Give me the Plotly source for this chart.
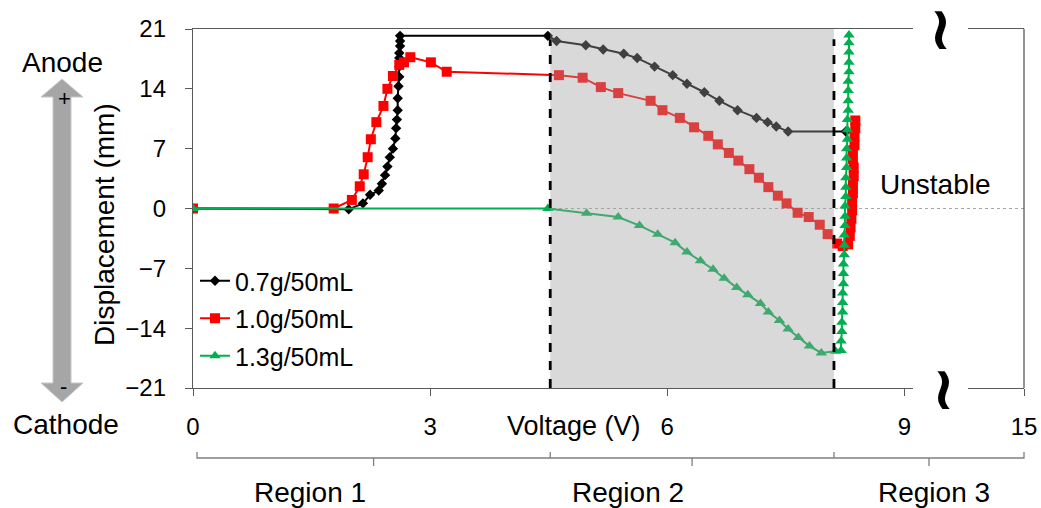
import plotly.graph_objects as go

# ---------------- data ----------------
black_v = [0, 1.97, 2.15, 2.24, 2.35, 2.39, 2.43, 2.46, 2.49, 2.53, 2.56, 2.57, 2.58, 2.59, 2.59, 2.60,
           2.61, 2.61, 2.61, 2.61, 2.62, 2.62, 2.62,
           4.49, 4.60, 4.97, 5.19, 5.45, 5.62, 5.84, 6.07, 6.25, 6.47, 6.66, 6.89, 7.13, 7.27, 7.38, 7.53, 8.26]
black_mm = [0, -0.1, 0.6, 1.6, 2.1, 2.9, 3.9, 4.9, 6.0, 7.0, 8.2, 9.4, 10.4, 11.5, 12.9, 14.3,
            15.4, 16.6, 17.6, 18.2, 19.0, 19.6, 20.2,
            20.2, 19.6, 19.1, 18.6, 18.1, 17.6, 16.6, 15.6, 14.6, 13.6, 12.6, 11.5, 10.6, 10.1, 9.6, 9.0, 9.0]

red_v = [0, 1.78, 2.01, 2.11, 2.16, 2.21, 2.25, 2.32, 2.41, 2.46, 2.53, 2.61, 2.67, 2.75, 3.01, 3.21,
         4.63, 4.93, 5.16, 5.38, 5.79, 5.94, 6.16, 6.34, 6.52, 6.64, 6.78, 6.90, 7.04, 7.16, 7.28, 7.40,
         7.51, 7.65, 7.79, 7.93, 8.03, 8.15,
         8.22, 8.29, 8.31, 8.32, 8.33, 8.34, 8.34, 8.35, 8.35, 8.36, 8.36, 8.35, 8.35, 8.37, 8.37, 8.38, 8.38]
red_mm = [0, 0, 1.0, 2.6, 4.0, 6.0, 8.1, 10.1, 12.0, 14.0, 15.5, 16.8, 17.1, 17.7, 17.1, 16.0,
          15.6, 15.3, 14.2, 13.5, 12.6, 11.5, 10.6, 9.5, 8.5, 7.5, 6.5, 5.6, 4.6, 3.6, 2.5, 1.5,
          0.6, -0.5, -1.0, -1.9, -3.0, -4.1,
          -4.4, -4.2, -3.2, -2.2, -1.2, -0.2, 0.8, 1.8, 2.8, 3.8, 4.8, 5.8, 6.8, 7.4, 8.4, 9.4, 10.3]

green_v = [0, 4.49, 4.98, 5.38, 5.65, 5.88, 6.10, 6.25, 6.42, 6.58, 6.72, 6.88, 7.02, 7.18, 7.28, 7.42,
           7.53, 7.66, 7.80, 7.95, 8.13,
           8.20, 8.20, 8.21, 8.21, 8.22, 8.22, 8.22, 8.23, 8.23, 8.23, 8.24, 8.24, 8.24, 8.25, 8.25, 8.25,
           8.26, 8.26, 8.26, 8.27, 8.27, 8.27, 8.28, 8.28, 8.28, 8.29, 8.29, 8.29, 8.29, 8.30, 8.30, 8.30,
           8.30, 8.30]
green_mm = [0, 0, -0.55, -1.0, -2.0, -3.0, -4.0, -5.1, -6.1, -7.1, -8.15, -9.25, -10.1, -11.1, -12.1, -13.1,
            -14.1, -15.1, -16.1, -16.9, -16.7,
            -16.6, -15.5, -14.4, -13.3, -12.1, -11.0, -9.9, -8.8, -7.6, -6.5, -5.4, -4.3, -3.1, -2.0, -0.9, 0.3,
            1.4, 2.5, 3.6, 4.8, 5.9, 7.0, 8.1, 9.2, 10.4, 11.5, 12.6, 13.8, 14.9, 16.0, 17.1, 18.3,
            19.4, 20.3]

series_names = ["0.7g/50mL", "1.0g/50mL", "1.3g/50mL"]
region_bounds = [4.52, 8.11]          # voltage limits of region 2
y_ticks = [-21, -14, -7, 0, 7, 14, 21]
x_ticks_main = [0, 3, 6, 9]
x_ticks_far = [15]
region_labels = ["Region 1", "Region 2", "Region 3"]

assert len(black_v) == len(black_mm)
assert len(red_v) == len(red_mm)
assert len(green_v) == len(green_mm)

# ---------------- layout geometry ----------------
W, H = 1041, 508
ML, MR, MT, MB = 193, 17, 29, 120
PW, PH = W - ML - MR, H - MT - MB
X_MAIN_RANGE = [0, 9.11]
X_MAIN_DOM = [0, (913 - ML) / PW]
X_FAR_RANGE = [14.29, 15]
X_FAR_DOM = [(968 - ML) / PW, 1]


def px_x(px):
    return (px - ML) / PW


def px_y(py):
    return (H - MB - py) / PH


def v_to_px(v):
    return ML + X_MAIN_DOM[0] * PW + (v - X_MAIN_RANGE[0]) / (X_MAIN_RANGE[1] - X_MAIN_RANGE[0]) * (X_MAIN_DOM[1] - X_MAIN_DOM[0]) * PW


FONT = "Liberation Sans, Arial, sans-serif"
AXC = "#595959"

fig = go.Figure()
styles = [
    dict(color="#000000", symbol="diamond", size=8),
    dict(color="#ff0000", symbol="square", size=10),
    dict(color="#00b050", symbol="triangle-up", size=10),
]
for name, xs, ys, st in zip(series_names, [black_v, red_v, green_v], [black_mm, red_mm, green_mm], styles):
    fig.add_trace(go.Scatter(
        x=xs, y=ys, name=name, mode="lines+markers", legendgroup=name,
        line=dict(color=st["color"], width=2),
        marker=dict(color=st["color"], symbol=st["symbol"], size=st["size"], line=dict(width=0)),
    ))

shapes = []
# zero reference line (dotted)
shapes.append(dict(type="line", xref="paper", yref="y", x0=0, x1=1, y0=0, y1=0,
                   line=dict(color="#a6a6a6", width=1, dash="dot"), layer="below"))
# region 2 shading (semi-transparent overlay, tints the data beneath)
shapes.append(dict(type="rect", xref="x", yref="paper", x0=region_bounds[0], x1=region_bounds[1], y0=0, y1=1,
                   fillcolor="rgb(160,160,160)", opacity=0.4, line=dict(width=0), layer="above"))
# dashed boundaries
for b in region_bounds:
    shapes.append(dict(type="line", xref="x", yref="y", x0=b, x1=b, y0=-21, y1=19.8,
                       line=dict(color="black", width=2.8, dash="dash"), layer="above"))
# right frame
shapes.append(dict(type="line", xref="paper", yref="paper", x0=1, x1=1, y0=0, y1=1,
                   line=dict(color=AXC, width=1.3)))

# region bracket below the axis
yb, yu, yd = px_y(458), px_y(452), px_y(466)
bx = [197, v_to_px(region_bounds[0]), v_to_px(region_bounds[1]), ML + PW]
path = f"M {px_x(bx[0])},{yu} L {px_x(bx[0])},{yb} L {px_x(bx[-1])},{yb} L {px_x(bx[-1])},{yu}"
for b in bx[1:-1]:
    path += f" M {px_x(b)},{yu} L {px_x(b)},{yb}"
for a, b in zip(bx[:-1], bx[1:]):
    c = (a + b) / 2
    path += f" M {px_x(c)},{yb} L {px_x(c)},{yd}"
shapes.append(dict(type="path", xref="paper", yref="paper", path=path,
                   line=dict(color="#7f7f7f", width=1.3)))

# Anode/Cathode double arrow
ax, hw, sw = 62, 21, 9
ty, by, hb, hb2 = 79, 402, 97, 383
pts = [(ax, ty), (ax + hw, hb), (ax + sw, hb), (ax + sw, hb2), (ax + hw, hb2), (ax, by),
       (ax - hw, hb2), (ax - sw, hb2), (ax - sw, hb), (ax - hw, hb)]
apath = "M " + " L ".join(f"{px_x(p[0])},{px_y(p[1])}" for p in pts) + " Z"
shapes.append(dict(type="path", xref="paper", yref="paper", path=apath,
                   fillcolor="#a6a6a6", line=dict(color="#c8c8c8", width=1)))

annotations = []


def ann(text, px, py, size, angle=0, **kw):
    annotations.append(dict(text=text, x=px_x(px), y=px_y(py), xref="paper", yref="paper",
                            showarrow=False, textangle=angle, xanchor="center", yanchor="middle",
                            font=dict(size=size, color="black", family=kw.pop("family", FONT)), **kw))


ann("Anode", 62, 62, 28)
ann("Cathode", 66, 424, 28)
ann("+", 64, 98, 22)
ann("-", 63, 386, 22)
ann("Displacement (mm)", 104, 225, 28, angle=-90)
ann("Voltage (V)", 574, 426, 27)
ann("Unstable", 935, 184, 28)
for lbl, px in zip(region_labels, [310, 628, 934]):
    ann(lbl, px, 492, 28)
# axis break marks
ann("<b>~</b>", 942, 30, 60, angle=90, family="DejaVu Sans")
ann("<b>~</b>", 945, 390, 60, angle=90, family="DejaVu Sans")

axis_common = dict(showline=True, linecolor=AXC, linewidth=1.3, ticks="outside", ticklen=7,
                   tickcolor=AXC, showgrid=False, zeroline=False, automargin=False,
                   tickfont=dict(size=24, color="black", family=FONT))

fig.update_layout(
    width=W, height=H,
    margin=dict(l=ML, r=MR, t=MT, b=MB, autoexpand=False),
    plot_bgcolor="white", paper_bgcolor="white",
    font=dict(family=FONT, color="black"),
    xaxis=dict(domain=X_MAIN_DOM, range=X_MAIN_RANGE, tickvals=x_ticks_main, mirror=True,
               ticklabelstandoff=10, **axis_common),
    xaxis2=dict(domain=X_FAR_DOM, range=X_FAR_RANGE, tickvals=x_ticks_far, mirror=True, anchor="y",
                ticklabelstandoff=10, **axis_common),
    yaxis=dict(range=[-21, 21], tickvals=y_ticks, anchor="x", ticklabelstandoff=14, **axis_common),
    legend=dict(x=px_x(195), y=px_y(258), xanchor="left", yanchor="top", bgcolor="rgba(0,0,0,0)",
                font=dict(size=25, color="black", family=FONT), traceorder="grouped", tracegroupgap=2,
                itemwidth=30),
    shapes=shapes,
    annotations=annotations,
)
# dummy trace on xaxis2 so that the far axis segment is rendered
fig.add_trace(go.Scatter(x=[15], y=[None], xaxis="x2", yaxis="y", showlegend=False, hoverinfo="skip"))

fig.write_html("out.html", config={"responsive": False, "displayModeBar": False},
               post_script="document.body.style.margin='0px';document.body.style.overflow='hidden';")
